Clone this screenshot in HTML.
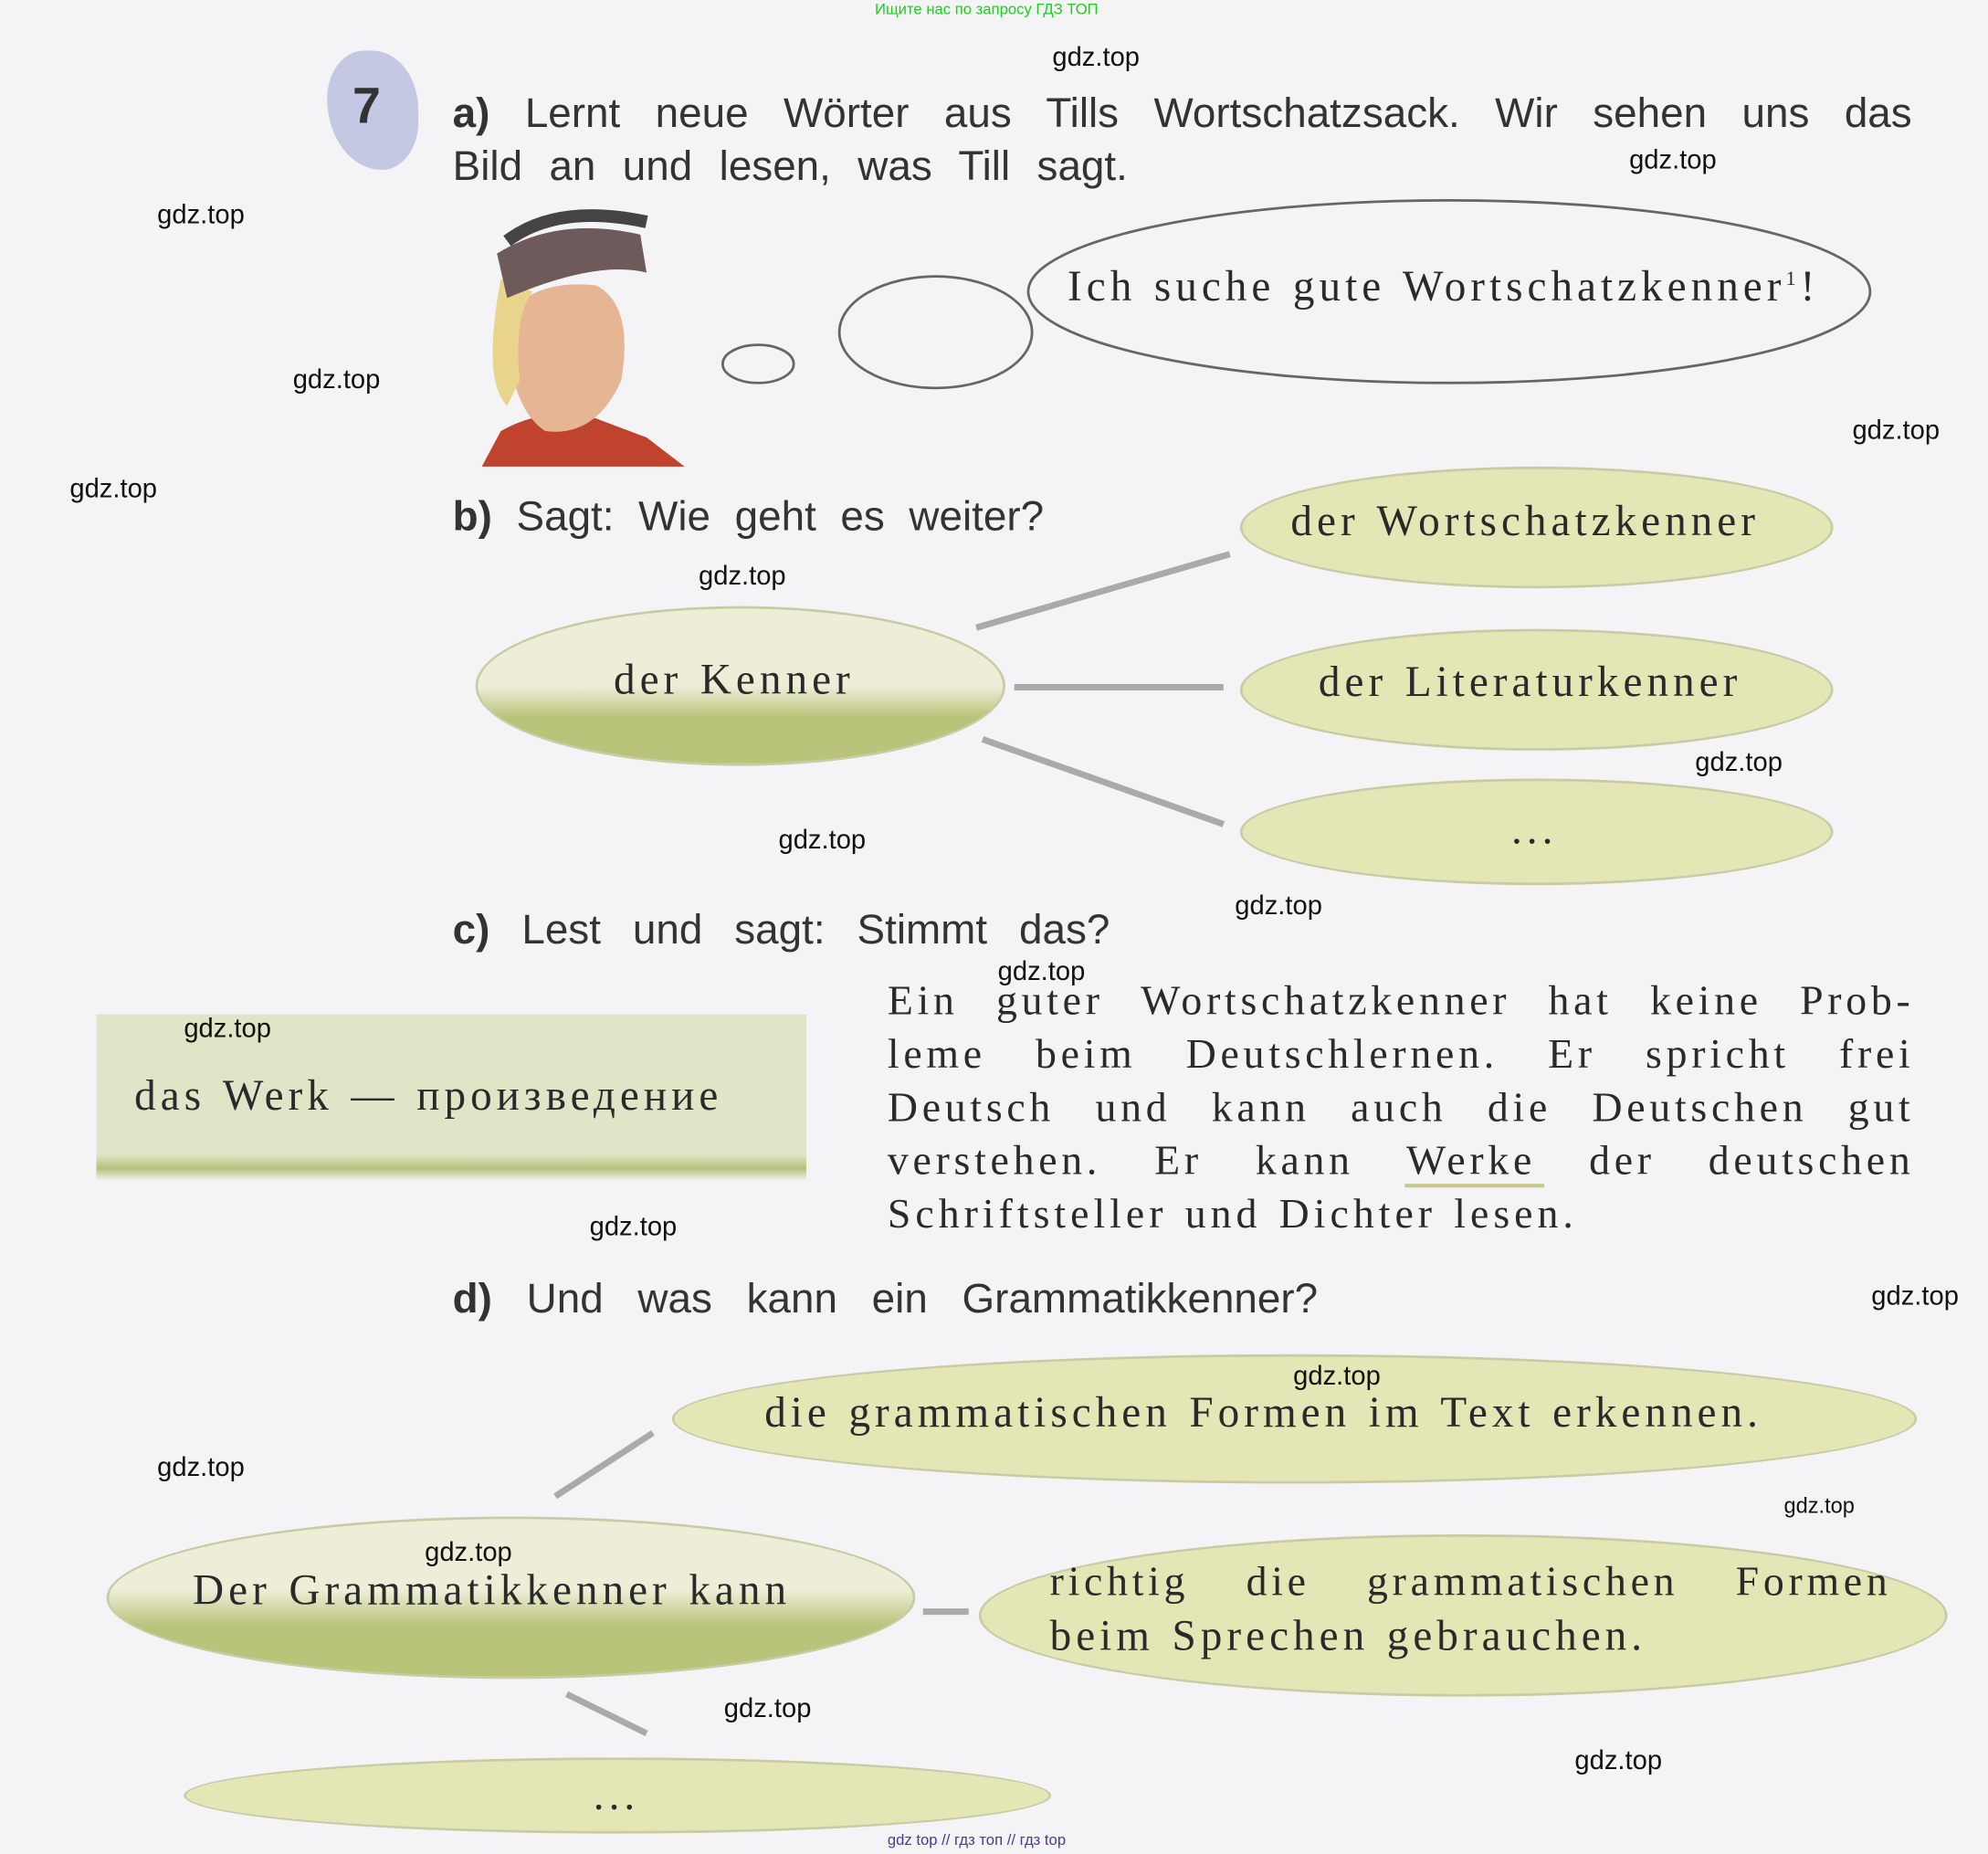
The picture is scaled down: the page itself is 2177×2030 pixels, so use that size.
<!DOCTYPE html><html><head><meta charset="utf-8"><style>
html,body{margin:0;padding:0;background:#f5f5f6;overflow:hidden}
#w{position:absolute;left:0;top:0;width:1568px;height:1462px;transform:scale(1.3884);transform-origin:0 0;background:#f4f4f6}
.a{position:absolute;white-space:nowrap}
.s{font-family:"Liberation Sans",sans-serif;color:#333;font-size:33px;word-spacing:16px}
.r{font-family:"Liberation Serif",serif;color:#2a2a2a;font-size:34px;letter-spacing:3.6px;word-spacing:2px}
.j{text-align:justify;text-align-last:justify;width:810px;left:700px;word-spacing:0;letter-spacing:3.4px;font-size:33px}
.g{font-family:"Liberation Sans",sans-serif;font-size:21px;color:#111}
.e{position:absolute;border-radius:50%;background:#e4e6b6;border:2px solid #c9cba5}
</style></head><body><div id="w">
<div class="a" style="left:690px;top:0;font:12px 'Liberation Sans',sans-serif;color:#2c2">Ищите нас по запросу ГДЗ ТОП</div>
<div class="a" style="left:258px;top:40px;width:72px;height:94px;background:#c5c8e2;border-radius:40% 50% 40% 60%"></div>
<div class="a" style="left:278px;top:62px;font:bold 40px 'Liberation Sans',sans-serif;color:#333">7</div>
<div class="a s" style="left:357px;top:70px;width:1151px;text-align:justify;text-align-last:justify;word-spacing:0"><b>a)</b> Lernt neue Wörter aus Tills Wortschatzsack. Wir sehen uns das</div>
<div class="a s" style="left:357px;top:112px;word-spacing:12px">Bild an und lesen, was Till sagt.</div>
<svg class="a" style="left:0;top:0" width="1568" height="1462">
<ellipse cx="1143" cy="230" rx="332" ry="72" fill="none" stroke="#666" stroke-width="2"/>
<ellipse cx="738" cy="262" rx="76" ry="44" fill="none" stroke="#666" stroke-width="2"/>
<ellipse cx="598" cy="287" rx="28" ry="15" fill="none" stroke="#666" stroke-width="2"/>
<path d="M380 368 L395 340 Q430 320 470 330 L510 345 L540 368Z" fill="#c0432e"/>
<path d="M400 250 Q420 220 470 225 Q500 240 490 300 Q470 345 430 340 Q400 320 400 250Z" fill="#e6b594"/>
<path d="M395 220 Q380 300 400 320 L410 300 Q405 250 420 230Z" fill="#e8d48a"/>
<path d="M392 200 Q440 170 505 185 L510 215 Q470 205 400 235Z" fill="#6e5a5a"/>
<path d="M400 190 Q440 160 510 175" stroke="#444" stroke-width="10" fill="none"/>
<g stroke="#aaa" stroke-width="5"><line x1="970" y1="437" x2="770" y2="495"/><line x1="800" y1="542" x2="965" y2="542"/><line x1="775" y1="583" x2="965" y2="650"/><line x1="438" y1="1180" x2="515" y2="1130"/><line x1="728" y1="1271" x2="764" y2="1271"/><line x1="447" y1="1336" x2="510" y2="1367"/></g>
<path d="M1108 935 L1218 935" stroke="#c8c88a" stroke-width="3"/>
</svg>
<div class="a r" style="left:842px;top:208px">Ich suche gute Wortschatzkenner<sup style="font-size:16px">1</sup>!</div>
<div class="a s" style="left:357px;top:388px;word-spacing:10px"><b>b)</b> Sagt: Wie geht es weiter?</div>
<div class="e" style="left:978px;top:368px;width:464px;height:92px"></div>
<div class="a r" style="left:1018px;top:393px">der Wortschatzkenner</div>
<div class="e" style="left:375px;top:478px;width:414px;height:122px;background:linear-gradient(180deg,#eeeed8 50%,#b9c37a 70%)"></div>
<div class="a r" style="left:484px;top:518px">der Kenner</div>
<div class="e" style="left:978px;top:496px;width:464px;height:92px"></div>
<div class="a r" style="left:1040px;top:520px">der Literaturkenner</div>
<div class="e" style="left:978px;top:614px;width:464px;height:80px"></div>
<div class="a r" style="left:1192px;top:636px">...</div>
<div class="a s" style="left:357px;top:714px"><b>c)</b> Lest und sagt: Stimmt das?</div>
<div class="a" style="left:76px;top:800px;width:560px;height:138px;background:linear-gradient(180deg,#e1e4c6 80%,#b5c17a 88%,#f4f4f6 95%)"></div>
<div class="a r" style="left:106px;top:846px">das Werk — произведение</div>
<div class="a r j" style="top:772px">Ein guter Wortschatzkenner hat keine Prob-</div>
<div class="a r j" style="top:814px">leme beim Deutschlernen. Er spricht frei</div>
<div class="a r j" style="top:856px">Deutsch und kann auch die Deutschen gut</div>
<div class="a r j" style="top:898px">verstehen. Er kann Werke der deutschen</div>
<div class="a r" style="left:700px;top:940px;font-size:33px">Schriftsteller und Dichter lesen.</div>
<div class="a s" style="left:357px;top:1005px;word-spacing:18px"><b>d)</b> Und was kann ein Grammatikkenner?</div>
<div class="e" style="left:530px;top:1068px;width:978px;height:98px"></div>
<div class="a r" style="left:603px;top:1096px">die grammatischen Formen im Text erkennen.</div>
<div class="e" style="left:84px;top:1196px;width:634px;height:124px;background:linear-gradient(180deg,#eeeed8 45%,#b9c37a 68%)"></div>
<div class="a r" style="left:152px;top:1236px">Der Grammatikkenner kann</div>
<div class="e" style="left:772px;top:1210px;width:760px;height:124px"></div>
<div class="a r j" style="left:828px;width:664px;top:1230px">richtig die grammatischen Formen</div>
<div class="a r" style="left:828px;top:1272px">beim Sprechen gebrauchen.</div>
<div class="e" style="left:145px;top:1386px;width:680px;height:56px"></div>
<div class="a r" style="left:468px;top:1398px">...</div>
<div class="a g" style="left:830px;top:34px">gdz.top</div><div class="a g" style="left:1285px;top:115px">gdz.top</div>
<div class="a g" style="left:124px;top:158px">gdz.top</div><div class="a g" style="left:231px;top:288px">gdz.top</div>
<div class="a g" style="left:1461px;top:328px">gdz.top</div><div class="a g" style="left:55px;top:374px">gdz.top</div>
<div class="a g" style="left:551px;top:443px">gdz.top</div><div class="a g" style="left:1337px;top:590px">gdz.top</div>
<div class="a g" style="left:614px;top:651px">gdz.top</div><div class="a g" style="left:974px;top:703px">gdz.top</div>
<div class="a g" style="left:787px;top:755px">gdz.top</div><div class="a g" style="left:145px;top:800px">gdz.top</div>
<div class="a g" style="left:465px;top:956px">gdz.top</div><div class="a g" style="left:1476px;top:1011px">gdz.top</div>
<div class="a g" style="left:1020px;top:1074px">gdz.top</div><div class="a g" style="left:124px;top:1146px">gdz.top</div>
<div class="a g" style="left:1407px;top:1178px;font-size:17px">gdz.top</div><div class="a g" style="left:335px;top:1213px">gdz.top</div>
<div class="a g" style="left:571px;top:1336px">gdz.top</div><div class="a g" style="left:1242px;top:1377px">gdz.top</div>
<div class="a" style="left:700px;top:1444px;font:12px 'Liberation Sans',sans-serif;color:#539">gdz top // гдз топ // гдз top</div>
</div></body></html>
